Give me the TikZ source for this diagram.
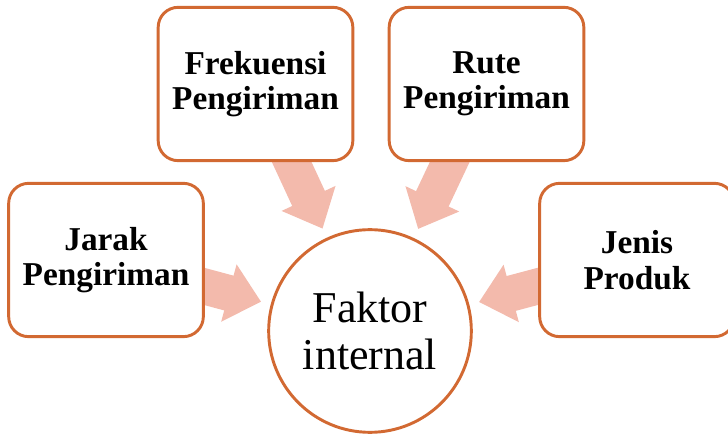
\documentclass[tikz,border=0pt]{standalone}
\usepackage{fontspec}
\setmainfont{Liberation Serif}
\usetikzlibrary{arrows.meta,backgrounds}
\definecolor{faktorline}{RGB}{210,105,50}
\definecolor{faktorarrow}{RGB}{243,186,172}
\begin{document}
\begin{tikzpicture}[x=0.75pt,y=-0.75pt,
    kotak/.style={draw=faktorline,line width=2.2pt,fill=white,rounded corners=15pt,
      minimum width=146pt,minimum height=115pt,align=center,
      font=\fontsize{25}{26.5}\selectfont\bfseries},
    pusat/.style={draw=faktorline,line width=2.2pt,fill=white,circle,
      minimum size=152pt,align=center,font=\fontsize{33}{35}\selectfont},
    panah/.style={draw=faktorarrow,line width=27pt,
      -{Triangle[width=43pt,length=25pt]},shorten >=7.5pt}]
  \useasboundingbox (0,0) rectangle (728,434);

  \node[pusat] (faktor) at (370,331) {Faktor\\internal};

  \node[kotak] (jarak) at (106,260) {Jarak\\Pengiriman};
  \node[kotak] (frekuensi) at (255.5,84) {Frekuensi\\Pengiriman};
  \node[kotak] (rute) at (486.5,84) {Rute\\Pengiriman};
  \node[kotak] (jenis) at (637,260) {Jenis\\Produk};

  % arrows behind the boxes
  \begin{scope}[on background layer]
    \draw[panah] (jarak.center) to (faktor);
    \draw[panah] (frekuensi.center) to (faktor);
    \draw[panah] (rute.center) to (faktor);
    \draw[panah] (jenis.center) to (faktor);
  \end{scope}
\end{tikzpicture}
\end{document}
